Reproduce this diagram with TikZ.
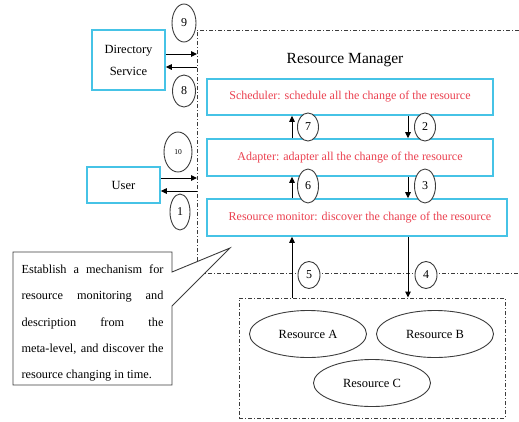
\documentclass[tikz,border=0pt]{standalone}
\usepackage{fontspec}
\setmainfont{Liberation Serif}
\usetikzlibrary{shapes.geometric,arrows.meta,calc}
\definecolor{boxcyan}{RGB}{70,195,230}
\definecolor{redtxt}{RGB}{235,65,80}
\definecolor{linegray}{RGB}{60,60,60}
\tikzset{
  cbox/.style={draw=boxcyan, line width=1.6pt, fill=white, inner sep=0pt},
  redlab/.style={text=redtxt, font=\fontsize{12}{14}\selectfont},
  num/.style={ellipse, draw=linegray, line width=0.9pt, fill=white, inner sep=0pt, font=\fontsize{12}{13}\selectfont},
  dashdot/.style={draw=linegray, line width=1pt, dash pattern=on 4pt off 2pt on 1pt off 2pt},
  arr/.style={draw=black, line width=1pt, -{Triangle[length=6pt,width=5.5pt]}},
  res/.style={ellipse, draw=linegray, line width=0.9pt, minimum width=117pt, minimum height=47pt, inner sep=0pt, font=\fontsize{12.5}{14}\selectfont},
}
\begin{document}
\begin{tikzpicture}[x=1pt,y=-1pt]
\useasboundingbox (0,0) rectangle (519,421);
% Resource manager frame
\coordinate (rmTL) at (197,30);
\coordinate (rmBL) at (197,273);
\draw[dashdot] (519,30) -- (rmTL) -- (rmBL) -- (519,273);
\node[font=\fontsize{15.5}{18}\selectfont] (title) at (345,60) {Resource Manager};
% layers
\node[cbox, minimum width=286pt, minimum height=36pt] (sched) at (350,97) {};
\node[redlab] at (sched) {Scheduler: schedule all the change of the resource};
\node[cbox, minimum width=286pt, minimum height=37pt] (adapt) at (350,157.5) {};
\node[redlab] at (adapt) {Adapter: adapter all the change of the resource};
\node[cbox, minimum width=300pt, minimum height=37pt] (mon) at (357,217.5) {};
\node[redlab] at (360,217.5) {Resource monitor: discover the change of the resource};
% vertical arrow columns
\coordinate (cL) at (292,0);
\coordinate (cR) at (408,0);
% resources
\node[dashdot, minimum width=266pt, minimum height=120pt, inner sep=0pt] (resbox) at (372,358) {};
\node[res] (ra) at (308,334) {Resource A};
\node[res] (rb) at (435,334) {Resource B};
\node[res] (rc) at (372,383) {Resource C};
% arrows inside
\draw[arr] (adapt.north -| cL) -- (sched.south -| cL);
\draw[arr] (sched.south -| cR) -- (adapt.north -| cR);
\draw[arr] (mon.north -| cL) -- (adapt.south -| cL);
\draw[arr] (adapt.south -| cR) -- (mon.north -| cR);
\draw[arr] (resbox.north -| cL) -- (mon.south -| cL);
\draw[arr] (mon.south -| cR) -- (resbox.north -| cR);
\node[num, minimum width=21pt, minimum height=28pt] (n7) at (308,127) {7};
\node[num, minimum width=21pt, minimum height=28pt] (n2) at (425,127) {2};
\node[num, minimum width=21pt, minimum height=34pt] (n6) at (308,186) {6};
\node[num, minimum width=21pt, minimum height=34pt] (n3) at (425,186) {3};
\node[num, minimum width=22pt, minimum height=27pt] (n5) at (309,275) {5};
\node[num, minimum width=22pt, minimum height=27pt] (n4) at (426,275) {4};
% directory service
\node[cbox, minimum width=73pt, minimum height=60pt, align=center, font=\fontsize{12.5}{22}\selectfont] (ds) at (128.5,60) {Directory\\Service};
\coordinate (rm9) at (197,54);
\coordinate (rm8) at (197,67);
\draw[arr] (ds.east |- rm9) -- (rm9);
\draw[arr] (rm8) -- (ds.east |- rm8);
\node[num, minimum width=24pt, minimum height=38pt] (n9) at (184,23) {9};
\node[num, minimum width=23pt, minimum height=32pt] (n8) at (184,91) {8};
% user
\node[cbox, minimum width=73pt, minimum height=36pt, font=\fontsize{12.5}{14}\selectfont] (user) at (123.5,185) {User};
\coordinate (rm10) at (197,178);
\coordinate (rm1) at (197,191);
\draw[arr] (user.east |- rm10) -- (rm10);
\draw[arr] (rm1) -- (user.east |- rm1);
\node[num, minimum width=28pt, minimum height=40pt, font=\fontsize{7.5}{8}\selectfont] (n10) at (178,152) {10};
\node[num, minimum width=20pt, minimum height=36pt] (n1) at (180,212) {1};
% callout
\coordinate (tip) at (230,248);
\draw[draw=linegray, line width=0.9pt, fill=white] (172,272) -- (tip) -- (172,306) -- (172,385) -- (13,385) -- (13,252) -- (172,252) -- cycle;
\node[text width=142pt, align=justify, inner sep=0pt, font=\fontsize{12.3}{26.3}\selectfont] (note) at (92.5,323) {Establish a mechanism for\linebreak resource monitoring and\linebreak description from the\linebreak meta-level, and discover the\linebreak resource changing in time.};
\end{tikzpicture}
\end{document}
